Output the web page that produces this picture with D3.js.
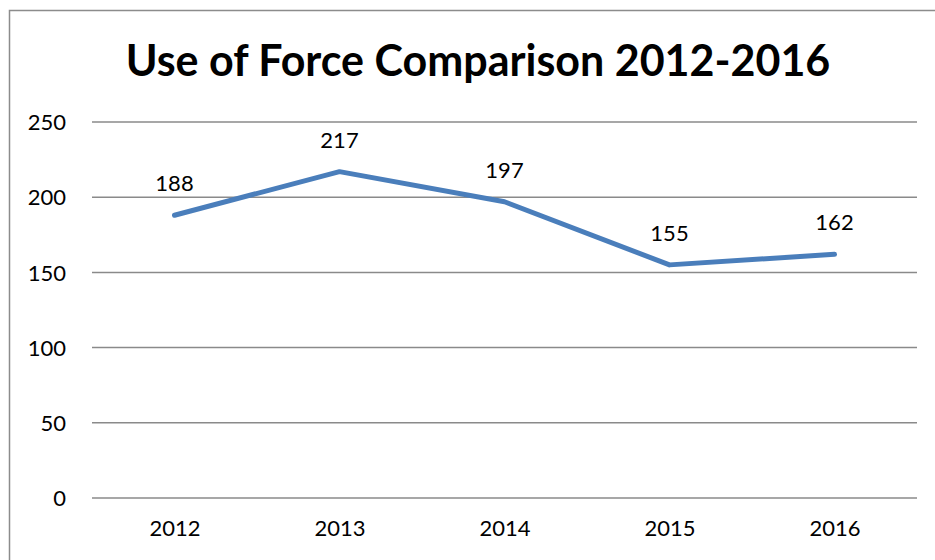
<!DOCTYPE html>
<html>
<head>
<meta charset="utf-8">
<script src="https://cdn.jsdelivr.net/npm/d3@7"></script>
<style>
  body { margin: 0; background: #fff; }
  svg { display: block; }
</style>
</head>
<body>
<svg></svg>
<script>
// chart data
var years = ["2012", "2013", "2014", "2015", "2016"];
var counts = [188, 217, 197, 155, 162];
var yTicks = [0, 50, 100, 150, 200, 250];

var width = 935, height = 560;
var font = "Lato, 'Open Sans', sans-serif";

var svg = d3.select("svg")
    .attr("width", width)
    .attr("height", height);

// outer chart frame
svg.append("rect")
    .attr("x", 9.5).attr("y", 10.5)
    .attr("width", 940).attr("height", 560)
    .style("fill", "none")
    .style("stroke", "#8c8c8c")
    .style("stroke-width", 1.5);

var x = d3.scalePoint()
    .domain(years)
    .range([92, 917])
    .padding(0.5);

var y = d3.scaleLinear()
    .domain([0, 250])
    .range([498, 122]);

// gridlines
svg.append("g")
    .selectAll("line")
    .data(yTicks)
    .enter().append("line")
    .attr("x1", 92).attr("x2", 917)
    .attr("y1", d => y(d)).attr("y2", d => y(d))
    .style("stroke", "#8a8a8a")
    .style("stroke-width", 1.5);

// y axis labels
var yAxis = d3.axisLeft(y).tickValues(yTicks).tickSize(0).tickPadding(0);
var gy = svg.append("g")
    .attr("transform", "translate(66,0)")
    .call(yAxis);
gy.select(".domain").remove();
gy.selectAll("text")
    .attr("dy", "0.35em")
    .style("font-family", font)
    .style("font-size", "22px")
    .style("fill", "#000");

// x axis labels
var xAxis = d3.axisBottom(x).tickSize(0).tickPadding(0);
var gx = svg.append("g")
    .attr("transform", "translate(0,520)")
    .call(xAxis);
gx.select(".domain").remove();
gx.selectAll("text")
    .attr("dy", "0.71em")
    .style("font-family", font)
    .style("font-size", "22px")
    .style("fill", "#000");

// the line
var line = d3.line()
    .x((d, i) => x(years[i]))
    .y(d => y(d));

svg.append("path")
    .datum(counts)
    .attr("d", line)
    .style("fill", "none")
    .style("stroke", "#4a7ebb")
    .style("stroke-width", 5)
    .style("stroke-linejoin", "round")
    .style("stroke-linecap", "round");

// data labels
svg.append("g")
    .selectAll("text")
    .data(counts)
    .enter().append("text")
    .attr("x", (d, i) => x(years[i]))
    .attr("y", d => y(d) - 24)
    .attr("text-anchor", "middle")
    .style("font-family", font)
    .style("font-size", "22px")
    .style("fill", "#000")
    .text(d => d);

// title
svg.append("text")
    .attr("x", 478)
    .attr("y", 76)
    .attr("text-anchor", "middle")
    .style("font-family", font)
    .style("font-weight", "bold")
    .style("font-size", "43px")
    .style("fill", "#000")
    .text("Use of Force Comparison 2012-2016");
</script>
</body>
</html>
